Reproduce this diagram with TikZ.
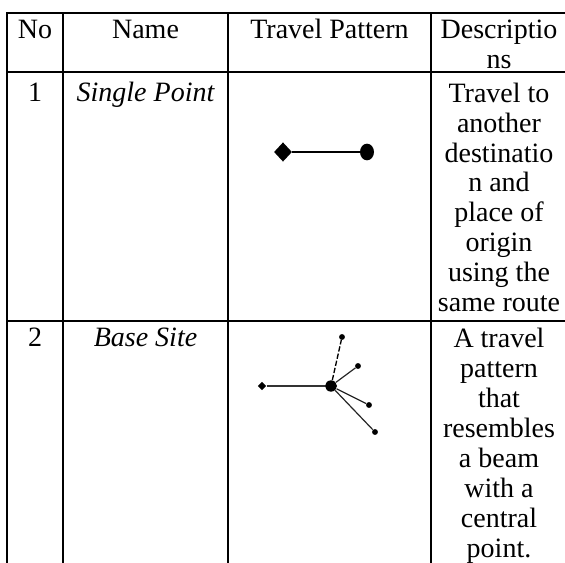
\documentclass[tikz,border=0pt]{standalone}
\usepackage{fontspec}
\setmainfont{Liberation Serif}
\usetikzlibrary{shapes.geometric}
\begin{document}
\begin{tikzpicture}[x=0.75pt,y=-0.75pt,
  grid/.style={line width=1.5pt, line cap=rect},
  cell/.style={anchor=base, inner sep=0pt, align=center, font=\fontsize{21}{22.5}\selectfont},
  bigdot/.style={fill=black, inner sep=0pt},
  smalldot/.style={circle, fill=black, inner sep=0pt, minimum size=4.4pt},
  spoke/.style={line width=0.9pt, black!85}]
\useasboundingbox (0,0) rectangle (565,563);
% table grid
\draw[grid] (7,13) -- (590,13);
\draw[grid] (7,72) -- (590,72);
\draw[grid] (7,321) -- (590,321);
\foreach \xx in {7,63,228,431,568} {\draw[grid] (\xx,13) -- (\xx,600);}
% header (multi-line nodes are placed by the baseline of their last line)
\node[cell] (h1) at (35,39) {No};
\node[cell] (h2) at (145.5,39) {Name};
\node[cell] (h3) at (329.5,39) {Travel Pattern};
\node[cell] (h4) at (499,69) {Descriptio\\ns};
% row 1
\node[cell] (n1) at (35,102) {1};
\node[cell] (nm1) at (145.5,102) {\itshape Single Point};
\node[cell] (d1) at (499,312) {Travel to\\another\\destinatio\\n and\\place of\\origin\\using the\\same route};
% row 2
\node[cell] (n2) at (35,347) {2};
\node[cell] (nm2) at (145.5,347) {\itshape Base Site};
\node[cell] (d2) at (499,557) {A travel\\pattern\\that\\resembles\\a beam\\with a\\central\\point.};
% pattern 1
\node[bigdot, diamond, minimum width=13.5pt, minimum height=14.5pt] (s1) at (283,152) {};
\node[bigdot, ellipse, minimum width=10.5pt, minimum height=12.5pt] (e1) at (367,152) {};
\draw[line width=1.2pt] (s1) -- (e1);
% pattern 2
\node[bigdot, diamond, minimum width=6.5pt, minimum height=6.5pt] (L) at (262,386) {};
\node[bigdot, ellipse, minimum width=9pt, minimum height=8.5pt] (H) at (331,386) {};
\node[smalldot] (t1) at (342,337) {};
\node[smalldot] (t2) at (358,366) {};
\node[smalldot] (t3) at (369,405) {};
\node[smalldot] (t4) at (375,432) {};
\draw[line width=1.8pt, black!80] (L) -- (H);
\draw[line width=1pt, dash pattern=on 4pt off 1.5pt] (H) -- (t1);
\draw[spoke] (H) -- (t2);
\draw[spoke] (H) -- (t3);
\draw[spoke] (H) -- (t4);
\end{tikzpicture}
\end{document}
